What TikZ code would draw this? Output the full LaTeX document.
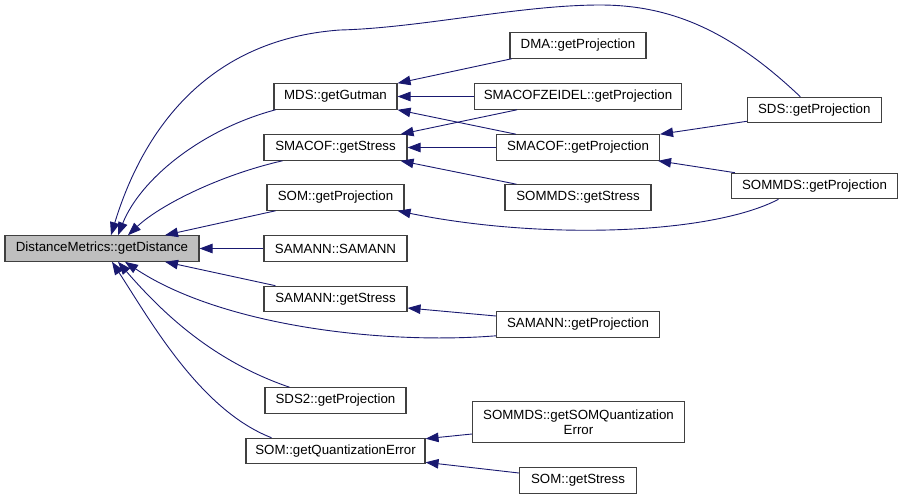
\documentclass[tikz,border=0pt]{standalone}
\usepackage{fontspec}
\setmainfont{Liberation Sans}
\usetikzlibrary{arrows.meta}

\definecolor{edgeblue}{HTML}{191970}
\definecolor{boxline}{HTML}{404040}

\tikzset{
  fn/.style={draw=boxline, line width=1.1pt, fill=white, inner sep=0pt,
    minimum height=25.5pt, align=center, font=\fontsize{13.3}{15}\selectfont},
  root/.style={fn, fill=black!25},
  call/.style={edgeblue, line width=0.9pt, -{Triangle[length=13pt,width=9.5pt]}}
}

\begin{document}
\begin{tikzpicture}[x=1pt, y=-1pt]
        \useasboundingbox (0,0) rectangle (903,499);

        % Function that is called
        \node[root, minimum width=194pt] (dm) at (102,248.5) {DistanceMetrics::getDistance};

        % Direct callers
        \node[fn, minimum width=123pt] (gutman) at (335.5,96.5) {MDS::getGutman};
        \node[fn, minimum width=143pt] (stress) at (335.5,147.5) {SMACOF::getStress};
        \node[fn, minimum width=137pt] (somproj) at (335.5,197.5) {SOM::getProjection};
        \node[fn, minimum width=143pt] (samann) at (335.5,248.5) {SAMANN::SAMANN};
        \node[fn, minimum width=143pt] (samstress) at (335.5,299) {SAMANN::getStress};
        \node[fn, minimum width=141pt] (sds2) at (335.5,400.5) {SDS2::getProjection};
        \node[fn, minimum width=179pt] (quant) at (335.5,451) {SOM::getQuantizationError};

        % Second level
        \node[fn, minimum width=136pt] (dma) at (578,45.5) {DMA::getProjection};
        \node[fn, minimum width=207pt] (zeidel) at (578,96.5) {SMACOFZEIDEL::getProjection};
        \node[fn, minimum width=163pt] (smacofproj) at (578,147.5) {SMACOF::getProjection};
        \node[fn, minimum width=146pt] (sommdsstress) at (578,197.5) {SOMMDS::getStress};
        \node[fn, minimum width=163pt] (samannproj) at (578,324.5) {SAMANN::getProjection};
        \node[fn, minimum width=212pt, minimum height=41pt] (somqe) at (578.5,422) {SOMMDS::getSOMQuantization\\Error};
        \node[fn, minimum width=117pt] (somstress) at (578,480.5) {SOM::getStress};

        % Third level
        \node[fn, minimum width=134pt] (sds) at (814.3,110) {SDS::getProjection};
        \node[fn, minimum width=166pt] (sommdsproj) at (814.5,186) {SOMMDS::getProjection};

        % Calls into getDistance
        \draw[call] ([xshift=-14pt]sds.north) .. controls (730,30) and (670,5) .. (600,5)
          .. controls (520,5) and (420,28) .. (340,30)
          .. controls (200,40) and (140,140) .. ([xshift=9pt]dm.north);
        \draw[call] ([xshift=2pt]gutman.south west) .. controls (200,130) and (140,180) .. ([xshift=16pt]dm.north);
        \draw[call] ([xshift=19pt]stress.south west) .. controls (220,175) and (160,205) .. ([xshift=26pt]dm.north);
        \draw[call] ([xshift=9pt]somproj.south west) -- ([xshift=63pt]dm.north);
        \draw[call] (samann.west) -- (dm.east);
        \draw[call] ([xshift=12pt]samstress.north west) -- ([xshift=63pt]dm.south);
        \draw[call] ([yshift=2pt]samannproj.south west) .. controls (380,345) and (220,325) .. ([xshift=23pt]dm.south);
        \draw[call] ([xshift=25pt]sds2.north west) .. controls (210,360) and (160,310) .. ([xshift=16pt]dm.south);
        \draw[call] ([xshift=26pt]quant.north west) .. controls (200,410) and (150,320) .. ([xshift=10pt]dm.south);

        % Calls into MDS::getGutman and SMACOF::getStress
        \draw[call] ([xshift=2pt]dma.south west) -- (gutman.north east);
        \draw[call] (zeidel.west) -- (gutman.east);
        \draw[call] ([xshift=20pt]smacofproj.north west) -- (gutman.south east);
        \draw[call] ([xshift=43pt]zeidel.south west) -- ([xshift=-7pt]stress.north east);
        \draw[call] (smacofproj.west) -- (stress.east);
        \draw[call] ([xshift=12pt]sommdsstress.north west) -- ([xshift=-7pt]stress.south east);

        % Calls into SMACOF::getProjection and SOM::getProjection
        \draw[call] ([yshift=2pt]sds.south west) -- (smacofproj.north east);
        \draw[call] ([xshift=4pt]sommdsproj.north west) -- ([xshift=-2pt]smacofproj.south east);
        \draw[call] ([xshift=-36pt]sommdsproj.south) .. controls (710,235) and (540,240) .. ([xshift=-7pt]somproj.south east);

        % Remaining calls
        \draw[call] ([yshift=8.5pt]samannproj.west) -- ([yshift=-9pt]samstress.east);
        \draw[call] ([yshift=-12pt]somqe.west) -- ([yshift=-1pt]quant.north east);
        \draw[call] ([yshift=7.5pt]somstress.west) -- ([yshift=2pt]quant.south east);

      \end{tikzpicture}
\end{document}
